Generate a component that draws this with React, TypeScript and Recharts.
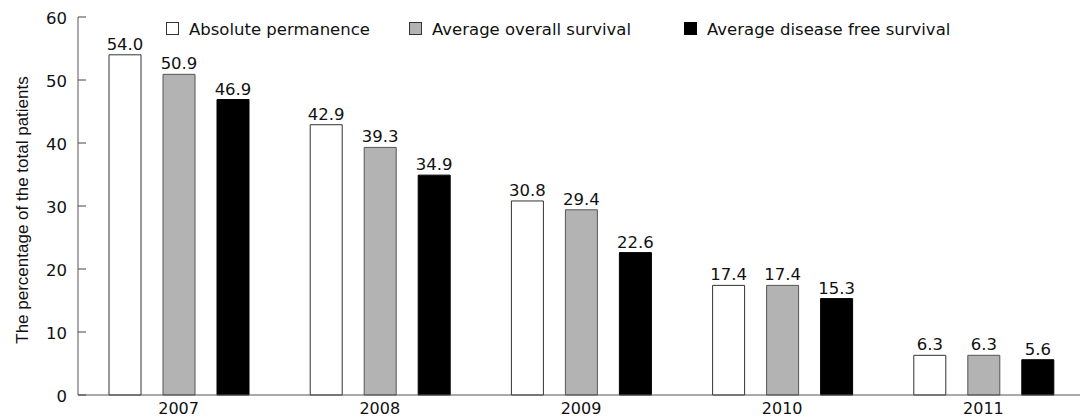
import React from 'react';
import { BarChart, Bar, XAxis, YAxis, LabelList } from 'recharts';

const categories = ['2007', '2008', '2009', '2010', '2011'];
const absolutePermanence = [54.0, 42.9, 30.8, 17.4, 6.3];
const averageOverallSurvival = [50.9, 39.3, 29.4, 17.4, 6.3];
const averageDiseaseFreeSurvival = [46.9, 34.9, 22.6, 15.3, 5.6];
const yTicks = [0, 10, 20, 30, 40, 50, 60];
const separatorTicks = [1, 2, 3, 4];

const seriesNames = ['Absolute permanence', 'Average overall survival', 'Average disease free survival'];
const seriesKeys = ['abs', 'os', 'dfs'];
const seriesFills = ['#ffffff', '#b3b3b3', '#000000'];
const seriesStrokes = ['#333333', '#555555', '#000000'];

const data = categories.map((year, i) => ({
  year,
  abs: absolutePermanence[i],
  os: averageOverallSurvival[i],
  dfs: averageDiseaseFreeSurvival[i],
}));

const FONT = '"DejaVu Sans", Verdana, sans-serif';
const TICK_MARGIN = 11;
const TICK_LEN = 8;

const YTick = (props: any) => {
  const { x, y, payload } = props;
  return (
    <g>
      <line x1={x + TICK_MARGIN} x2={x + TICK_MARGIN + TICK_LEN} y1={y} y2={y} stroke="#444" strokeWidth={1} />
      <text x={x} y={y} dy="0.4em" textAnchor="end" fontSize={16.5} fontFamily={FONT} fill="#111">
        {payload.value}
      </text>
    </g>
  );
};

const YLabel = (props: any) => {
  const vb = props.viewBox || { x: 0, y: 17, width: 78, height: 378 };
  const cx = 28;
  const cy = vb.y + vb.height / 2 + 4;
  return (
    <text
      x={cx}
      y={cy}
      transform={`rotate(-90, ${cx}, ${cy})`}
      textAnchor="middle"
      fontSize={17}
      fontFamily='"Liberation Sans", Arial, sans-serif'
      fill="#111"
    >
      The percentage of the total patients
    </text>
  );
};

const legendSquareX = [166, 409, 684];

const fmt = (v: any) => Number(v).toFixed(1);

export default function App() {
  return (
    <div style={{ position: 'absolute', left: 0, top: 0, width: 1080, height: 419, overflow: 'hidden', background: '#fff' }}>
      <BarChart
        width={1090}
        height={419}
        data={data}
        margin={{ top: 17, right: 6, bottom: 0, left: 0 }}
        barGap={22}
        barSize={32}
      >
        <XAxis
          xAxisId="sep"
          type="number"
          domain={[0, 5]}
          ticks={separatorTicks}
          height={0}
          mirror
          axisLine={false}
          tickLine={{ stroke: '#444', strokeWidth: 1 }}
          tickSize={TICK_LEN}
          tick={() => <g />}
          allowDataOverflow
        />
        <XAxis
          dataKey="year"
          height={24}
          tickLine={false}
          tickSize={0}
          tickMargin={8}
          interval={0}
          axisLine={{ stroke: '#555', strokeWidth: 1 }}
          tick={{ fontSize: 16, fill: '#111', fontFamily: FONT }}
        />
        <YAxis
          domain={[0, 60]}
          ticks={yTicks}
          width={78}
          interval={0}
          axisLine={{ stroke: '#555', strokeWidth: 1 }}
          tickLine={false}
          tickSize={0}
          tickMargin={TICK_MARGIN}
          tick={<YTick />}
          label={{ content: <YLabel /> }}
        />
        {seriesKeys.map((k, i) => (
          <Bar
            key={k}
            dataKey={k}
            name={seriesNames[i]}
            fill={seriesFills[i]}
            stroke={seriesStrokes[i]}
            strokeWidth={1}
            isAnimationActive={false}
          >
            <LabelList
              dataKey={k}
              position="top"
              offset={5}
              formatter={fmt}
              style={{ fontSize: 16.5, fontFamily: FONT, fill: '#111' }}
            />
          </Bar>
        ))}
      </BarChart>
      <svg width={1080} height={50} style={{ position: 'absolute', left: 0, top: 0, pointerEvents: 'none' }}>
        {seriesNames.map((name, i) => (
          <g key={name}>
            <rect
              x={legendSquareX[i] + 0.5}
              y={22.5}
              width={12}
              height={12}
              fill={seriesFills[i]}
              stroke={i === 2 ? '#000' : '#333'}
              strokeWidth={1}
            />
            <text x={legendSquareX[i] + 23} y={35} fontSize={16.5} fontFamily={FONT} fill="#111">
              {name}
            </text>
          </g>
        ))}
      </svg>
    </div>
  );
}
